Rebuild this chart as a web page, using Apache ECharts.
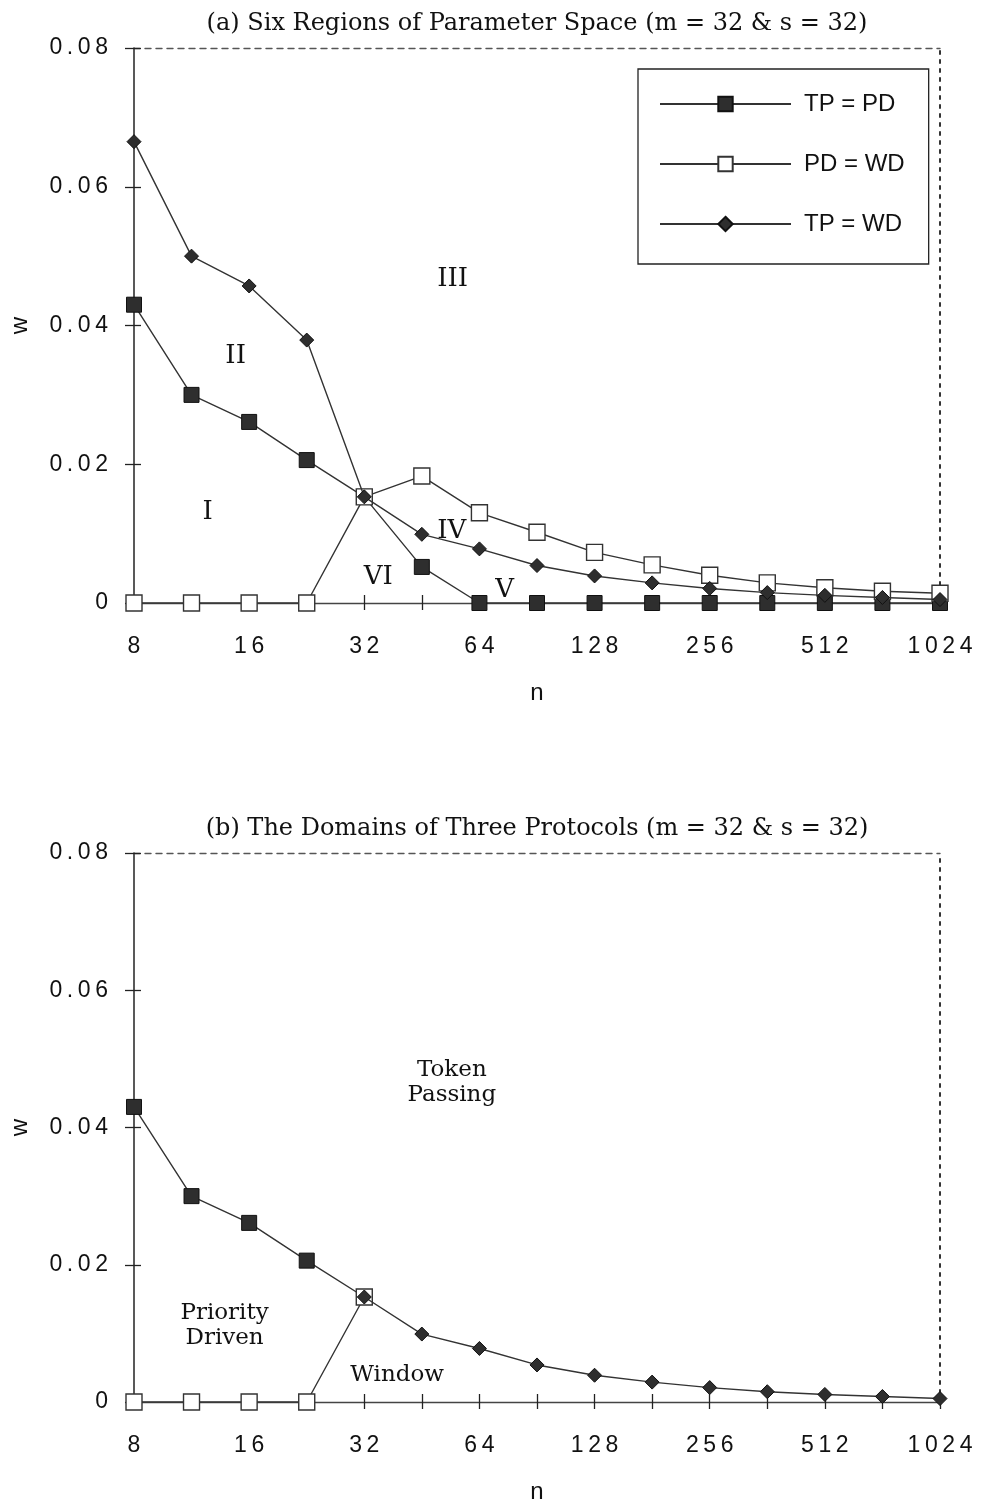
<!DOCTYPE html>
<html>
<head>
<meta charset="utf-8">
<script src="https://cdn.jsdelivr.net/npm/echarts@6/dist/echarts.min.js"></script>
<style>
  html, body { margin: 0; padding: 0; background: #fff; }
  #chart { width: 982px; height: 1509px; }
</style>
</head>
<body>
<div id="chart"></div>
<script>
// Network size n (log2 spaced, half-octave steps)
const nValues = [8, 11.31, 16, 22.63, 32, 45.25, 64, 90.51, 128, 181.02, 256, 362.04, 512, 724.08, 1024];

// (a) boundary curves between protocol costs
const tpEqPd = [0.043, 0.030, 0.0261, 0.0206, 0.0153, 0.0052, 0, 0, 0, 0, 0, 0, 0, 0, 0];
const pdEqWd = [0, 0, 0, 0, 0.0153, 0.0183, 0.0130, 0.0102, 0.0073, 0.0055, 0.0040, 0.0029, 0.0022, 0.0017, 0.0014];
const tpEqWd = [0.0665, 0.0500, 0.0457, 0.0379, 0.0153, 0.0099, 0.0078, 0.0054, 0.0039, 0.0029, 0.0021, 0.0015, 0.0011, 0.0008, 0.0005];

// (b) domain borders
const borderPD = [0.043, 0.030, 0.0261, 0.0206, 0.0153, null, null, null, null, null, null, null, null, null, null];
const borderWindow = [0, 0, 0, 0, 0.0153, null, null, null, null, null, null, null, null, null, null];
const borderTP = [null, null, null, null, 0.0153, 0.0099, 0.0078, 0.0054, 0.0039, 0.0029, 0.0021, 0.0015, 0.0011, 0.0008, 0.0005];

// Region names placed in data space [n, w]
const regionsA = [
  { text: 'III', n: 54.5, w: 0.0466 },
  { text: 'II', n: 14.75, w: 0.0355 },
  { text: 'I', n: 12.47, w: 0.0131 },
  { text: 'IV', n: 54.2, w: 0.0103 },
  { text: 'VI', n: 34.8, w: 0.0037 },
  { text: 'V', n: 74.5, w: 0.0019 }
];
const regionsB = [
  { text: 'Token\nPassing', n: 54.2, w: 0.0466 },
  { text: 'Priority\nDriven', n: 13.8, w: 0.0112 },
  { text: 'Window', n: 39.0, w: 0.0039 }
];

const titles = [
  '(a) Six Regions of Parameter Space (m = 32 & s = 32)',
  '(b) The Domains of Three Protocols (m = 32 & s = 32)'
];
const seriesNames = ['TP = PD', 'PD = WD', 'TP = WD'];

const INK = '#222';
const TEXT = '#111';
const SANS = '"Liberation Sans", Arial, sans-serif';
const SERIF = '"DejaVu Serif", serif';

const spaced = s => s.split('').join('\u2009');
const pair = arr => arr.map((w, i) => [Math.log2(nValues[i]), w]);

const grids = [
  { left: 131, right: 42, top: 48, height: 555 },
  { left: 131, right: 42, top: 853, height: 549 }
];

const xAxes = [], yAxes = [], series = [], titleList = [];
const xBase = { type: 'value', min: 3, max: 10, interval: 0.5, splitLine: { show: false } };
const yBase = { type: 'value', min: 0, max: 0.08, interval: 0.02, splitLine: { show: false } };

grids.forEach((g, gi) => {
  const xi = xAxes.length, yi = yAxes.length;
  // bottom axis with labels, ticks below
  xAxes.push(Object.assign({}, xBase, {
    gridIndex: gi, position: 'bottom',
    axisLine: { show: true, onZero: false, lineStyle: { color: '#444', width: 1.3 } },
    axisTick: { show: true, inside: false, length: 7, lineStyle: { color: INK, width: 1.3 } },
    axisLabel: {
      margin: 32, fontSize: 23, fontFamily: SANS, color: TEXT,
      formatter: v => Number.isInteger(v) ? spaced(String(Math.pow(2, v))) : ''
    },
    name: 'n', nameLocation: 'middle', nameGap: 78,
    nameTextStyle: { fontSize: 24, fontFamily: SANS, color: TEXT }
  }));
  // same axis, ticks above
  xAxes.push(Object.assign({}, xBase, {
    gridIndex: gi, position: 'bottom',
    axisLine: { show: false, onZero: false }, axisLabel: { show: false },
    axisTick: { show: true, inside: true, length: 8, lineStyle: { color: INK, width: 1.3 } }
  }));
  // dotted top border
  xAxes.push(Object.assign({}, xBase, {
    gridIndex: gi, position: 'top',
    axisLine: { show: true, onZero: false, lineStyle: { color: '#555', width: 1.4, type: [6, 5] } },
    axisTick: { show: false }, axisLabel: { show: false }
  }));
  // left axis with labels, ticks outside
  yAxes.push(Object.assign({}, yBase, {
    gridIndex: gi, position: 'left',
    axisLine: { show: true, onZero: false, lineStyle: { color: INK, width: 1.5 } },
    axisTick: { show: true, inside: false, length: 9, lineStyle: { color: INK, width: 1.3 } },
    axisLabel: {
      margin: 26, fontSize: 23, fontFamily: SANS, color: TEXT,
      formatter: v => v === 0 ? '0' : spaced(v.toFixed(2))
    },
    name: 'w', nameLocation: 'middle', nameGap: 102, nameRotate: 90,
    nameTextStyle: { fontSize: 24, fontFamily: SANS, color: TEXT }
  }));
  // left axis ticks inside
  yAxes.push(Object.assign({}, yBase, {
    gridIndex: gi, position: 'left',
    axisLine: { show: false, onZero: false }, axisLabel: { show: false },
    axisTick: { show: true, inside: true, length: 7, lineStyle: { color: INK, width: 1.3 } }
  }));
  // dotted right border
  yAxes.push(Object.assign({}, yBase, {
    gridIndex: gi, position: 'right',
    axisLine: { show: true, onZero: false, lineStyle: { color: '#333', width: 2, type: [3, 6] } },
    axisTick: { show: false }, axisLabel: { show: false }
  }));

  titleList.push({
    text: titles[gi], left: 532, textAlign: 'center', top: gi === 0 ? 7 : 812,
    textStyle: { fontFamily: SERIF, fontSize: 24, fontWeight: 'normal', color: TEXT }
  });

  const arrays = gi === 0 ? [tpEqPd, pdEqWd, tpEqWd] : [borderPD, borderWindow, borderTP];
  const styles = [
    { symbol: 'rect', symbolSize: 15, itemStyle: { color: '#2e2e2e', borderColor: '#111', borderWidth: 1 } },
    { symbol: 'rect', symbolSize: 16, itemStyle: { color: '#fff', borderColor: '#333', borderWidth: 1.4 } },
    { symbol: 'diamond', symbolSize: 14, itemStyle: { color: '#2e2e2e', borderColor: '#111', borderWidth: 1 } }
  ];
  arrays.forEach((arr, si) => {
    series.push(Object.assign({
      type: 'line', name: seriesNames[si],
      xAxisIndex: xi, yAxisIndex: yi,
      data: pair(arr), connectNulls: false, showAllSymbol: true,
      lineStyle: { color: '#333', width: 1.4 },
      z: 3 + si, animation: false
    }, styles[si]));
  });

  // region annotations, placed through the axes
  const regions = gi === 0 ? regionsA : regionsB;
  const fontSize = gi === 0 ? 26 : 23;
  series.push({
    type: 'custom', xAxisIndex: xi, yAxisIndex: yi,
    silent: true, animation: false, z: 10,
    data: regions.map(r => [Math.log2(r.n), r.w]),
    renderItem: (params, api) => {
      const p = api.coord([api.value(0), api.value(1)]);
      return {
        type: 'text', x: p[0], y: p[1],
        style: {
          text: regions[params.dataIndex].text,
          fill: TEXT, font: fontSize + 'px ' + SERIF, lineHeight: 25,
          align: 'center', verticalAlign: 'middle'
        }
      };
    }
  });
});

const chart = echarts.init(document.getElementById('chart'), null, { renderer: 'canvas' });
chart.setOption({
  backgroundColor: '#fff',
  animation: false,
  title: titleList,
  grid: grids,
  xAxis: xAxes,
  yAxis: yAxes,
  legend: {
    data: seriesNames, orient: 'vertical', left: 638, top: 69,
    padding: [23, 24, 28, 21], itemGap: 36, itemWidth: 131, itemHeight: 18,
    borderColor: '#222', borderWidth: 1.3, backgroundColor: '#fff',
    selectedMode: false,
    textStyle: { fontFamily: SANS, fontSize: 24, color: TEXT, padding: [0, 0, 0, 8] }
  },
  series: series
});
</script>
</body>
</html>
